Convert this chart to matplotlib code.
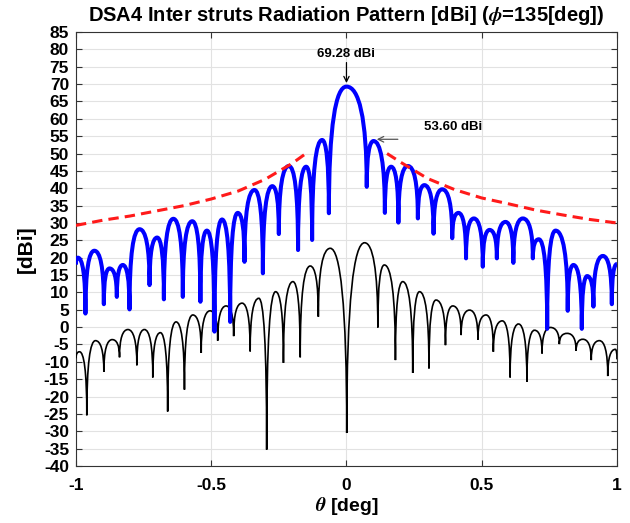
import numpy as np
import matplotlib.pyplot as plt
from matplotlib.path import Path
from matplotlib.patches import PathPatch

plt.rcParams["font.family"] = ["Liberation Sans", "DejaVu Sans"]
plt.rcParams["font.weight"] = "bold"
plt.rcParams["mathtext.fontset"] = "stix"

# Lobe extrema (alternating null / peak)
blue_theta = [-1.000, -0.993, -0.965, -0.932, -0.897, -0.876, -0.849, -0.827, -0.802, -0.765,
              -0.728, -0.700, -0.675, -0.640, -0.605, -0.570, -0.540, -0.516, -0.488, -0.460,
              -0.430, -0.402, -0.377, -0.340, -0.309, -0.274, -0.250, -0.213, -0.179, -0.149,
              -0.127, -0.090, -0.065, 0.000, 0.075, 0.100, 0.142, 0.165, 0.192, 0.227,
              0.264, 0.288, 0.322, 0.354, 0.391, 0.414, 0.442, 0.471, 0.504, 0.529,
              0.556, 0.588, 0.617, 0.652, 0.689, 0.711, 0.742, 0.773, 0.818, 0.839,
              0.870, 0.890, 0.913, 0.948, 0.981, 1.000]
blue_gain = [18.0, 20.0, 3.9, 22.0, 6.6, 16.9, 8.7, 17.9, 5.1, 28.2,
             12.1, 25.8, 8.0, 31.2, 8.7, 30.5, 7.3, 27.8, -1.3, 31.0,
             1.5, 32.9, 18.8, 39.5, 15.5, 40.6, 26.8, 46.4, 22.2, 46.2,
             25.1, 53.9, 32.8, 69.28, 40.4, 53.6, 32.9, 46.2, 30.1, 46.4,
             31.3, 40.9, 26.9, 39.7, 25.6, 32.9, 19.8, 31.3, 17.4, 28.0,
             19.8, 30.3, 18.5, 31.3, 19.8, 25.3, -0.5, 27.8, 4.7, 17.9,
             -0.5, 14.7, 5.9, 20.5, 6.6, 18.2]

black_theta = [-1.000, -0.987, -0.960, -0.928, -0.897, -0.866, -0.839, -0.808, -0.775, -0.747,
               -0.716, -0.688, -0.661, -0.630, -0.599, -0.568, -0.537, -0.504, -0.476, -0.445,
               -0.417, -0.386, -0.356, -0.324, -0.295, -0.262, -0.233, -0.198, -0.171, -0.134,
               -0.104, -0.060, 0.001, 0.067, 0.116, 0.140, 0.181, 0.208, 0.245, 0.270,
               0.305, 0.331, 0.366, 0.393, 0.424, 0.455, 0.486, 0.516, 0.543, 0.576,
               0.605, 0.636, 0.667, 0.695, 0.723, 0.754, 0.787, 0.816, 0.849, 0.874,
               0.905, 0.935, 0.966, 0.994, 1.000]
black_gain = [-9.0, -7.1, -25.4, -3.9, -12.9, -3.6, -8.7, -0.7, -11.0, -0.7,
              -14.5, -1.6, -24.3, 1.5, -18.0, 3.5, -7.4, 4.7, -3.9, 6.1,
              -2.6, 6.9, -7.0, 8.3, -35.3, 10.2, -10.3, 13.1, -8.7, 17.6,
              3.0, 22.7, -30.5, 24.3, -0.1, 17.9, -9.5, 13.1, -13.2, 10.2,
              -11.9, 7.8, -5.2, 6.1, -2.3, 4.9, -3.6, 3.5, -7.1, 1.8,
              -14.5, 0.9, -15.8, -0.9, -7.6, -0.1, -4.9, -1.8, -6.8, -3.5,
              -9.5, -3.9, -14.1, -6.4, -9.3]

# Red dashed envelope
env_left_theta = [-1.0, -0.9, -0.8, -0.7, -0.6, -0.5, -0.4, -0.3, -0.2, -0.15]
env_left_gain = [29.3, 30.8, 32.0, 33.5, 35.0, 36.9, 39.2, 42.6, 47.2, 50.0]
env_right_theta = [0.15, 0.2, 0.3, 0.4, 0.5, 0.6, 0.7, 0.8, 0.9, 1.0]
env_right_gain = [50.0, 47.5, 42.8, 39.6, 37.2, 35.5, 33.7, 32.3, 31.0, 30.0]

peak_label = "69.28 dBi"
side_label = "53.60 dBi"


def lobe_path(xs, ys, k=0.7, m=0.4):
    # cubic segments: vertical tangent at nulls, flat at peaks
    verts = [(xs[0], ys[0])]
    codes = [Path.MOVETO]
    for i in range(len(xs) - 1):
        xa, ya, xb, yb = xs[i], ys[i], xs[i + 1], ys[i + 1]
        if yb > ya:
            c1 = (xa, ya + k * (yb - ya))
            c2 = (xa + m * (xb - xa), yb)
        else:
            c1 = (xb - m * (xb - xa), ya)
            c2 = (xb, yb + k * (ya - yb))
        verts += [c1, c2, (xb, yb)]
        codes += [Path.CURVE4] * 3
    return Path(verts, codes)


fig = plt.figure(figsize=(6.3, 5.23), dpi=100)
ax = fig.add_axes([0.1206, 0.109, 0.8587, 0.8298])

ax.add_patch(PathPatch(lobe_path(black_theta, black_gain), fill=False,
                       edgecolor="black", lw=1.2, zorder=3))
ax.add_patch(PathPatch(lobe_path(blue_theta, blue_gain), fill=False,
                       edgecolor="#0000ff", lw=2.9, zorder=4, joinstyle="round"))
for tx, gy in [(env_left_theta, env_left_gain), (env_right_theta, env_right_gain)]:
    ax.plot(tx, gy, color="#ff1a1a", lw=2.2, dashes=(3.4, 2.0), zorder=5)

ax.annotate(peak_label, xy=(0.0, 70.3), xytext=(0.0, 77.0), ha="center", va="bottom",
            fontsize=9.5, fontweight="bold",
            arrowprops=dict(arrowstyle="->", color="black", lw=0.9, shrinkA=0, shrinkB=0))
ax.annotate("", xy=(0.112, 54.1), xytext=(0.19, 54.1),
            arrowprops=dict(arrowstyle="->", color="#555555", lw=0.9, shrinkA=0, shrinkB=0))
ax.text(0.394, 57.7, side_label, ha="center", va="center", fontsize=9.5, fontweight="bold")

ax.set_xlim(-1, 1)
ax.set_ylim(-40, 85)
ax.set_xticks([-1, -0.5, 0, 0.5, 1])
ax.set_xticklabels(["-1", "-0.5", "0", "0.5", "1"])
ax.set_yticks(np.arange(-40, 86, 5))
ax.set_yticklabels([str(v) for v in range(-40, 86, 5)])
ax.tick_params(direction="in", top=True, right=True, length=4, width=0.8,
               color="#333333", labelsize=12.5)
ax.tick_params(axis="x", pad=9)
ax.tick_params(axis="y", pad=5)
for lab in ax.get_xticklabels() + ax.get_yticklabels():
    lab.set_fontweight("bold")
ax.grid(True, color="#e2e2e2", lw=0.8, zorder=0)
ax.set_axisbelow(True)
for sp in ax.spines.values():
    sp.set_color("#333333")
    sp.set_linewidth(0.8)

ax.set_title(r"DSA4 Inter struts Radiation Pattern [dBi] ($\phi$=135[deg])",
             fontsize=14.5, fontweight="bold", pad=8)
ax.set_xlabel(r"$\theta$ [deg]", fontsize=14, fontweight="bold", labelpad=1)
ax.set_ylabel("[dBi]", fontsize=15, fontweight="bold", labelpad=6)

fig.savefig("out.png", dpi=100)
